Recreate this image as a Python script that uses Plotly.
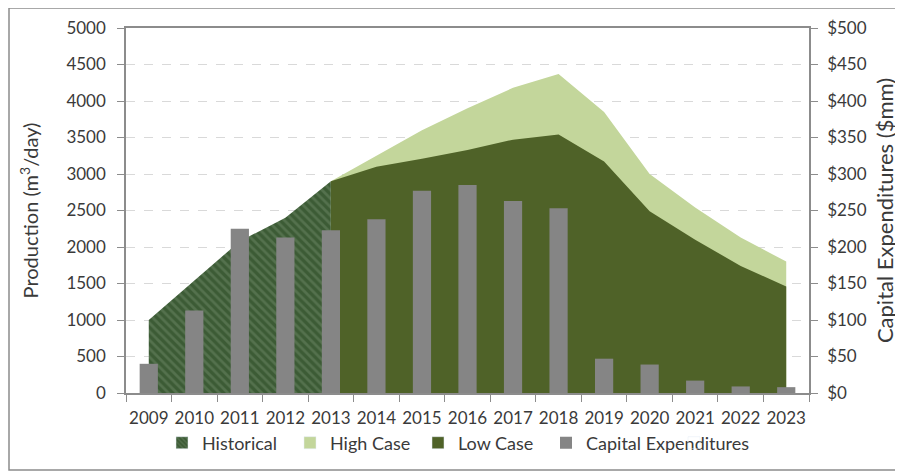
import plotly.graph_objects as go

years = [str(y) for y in range(2009, 2024)]

hist_years = ["2009", "2010", "2011", "2012", "2013"]
historical = [1000, 1540, 2080, 2400, 2900]

case_years = ["2013", "2014", "2015", "2016", "2017", "2018", "2019", "2020", "2021", "2022", "2023"]
high_case = [2900, 3250, 3600, 3900, 4180, 4370, 3850, 3000, 2540, 2130, 1800]
low_case = [2900, 3100, 3210, 3330, 3470, 3540, 3170, 2490, 2100, 1740, 1460]

capex = [40, 113, 225, 213, 223, 238, 277, 285, 263, 253, 47, 39, 17, 9, 8]

FONT = "Lato"
TXT = "#3a3a3a"
C_HIST, C_HIST_FG = "#3c5b35", "#6b8766"
C_HIGH, C_LOW, C_BAR = "#c3d69b", "#4f6228", "#858585"

fig = go.Figure()

# areas (legend shown via square entries below)
fig.add_trace(go.Scatter(
    x=hist_years, y=historical, name="Historical", mode="lines", showlegend=False,
    line=dict(width=0, color=C_HIST), fill="tozeroy", fillcolor=C_HIST,
    fillpattern=dict(shape="\\", fgcolor=C_HIST_FG, bgcolor=C_HIST, size=6, solidity=0.45),
))
fig.add_trace(go.Scatter(
    x=case_years, y=high_case, name="High Case", mode="lines", showlegend=False,
    line=dict(width=0, color=C_HIGH), fill="tozeroy", fillcolor=C_HIGH,
))
fig.add_trace(go.Scatter(
    x=case_years, y=low_case, name="Low Case", mode="lines", showlegend=False,
    line=dict(width=0, color=C_LOW), fill="tozeroy", fillcolor=C_LOW,
))
# legend entries (square swatches, no data drawn)
fig.add_trace(go.Bar(x=[None], y=[None], name="Historical", yaxis="y2",
                     marker=dict(color=C_HIST, pattern=dict(shape="\\", fgcolor=C_HIST_FG, bgcolor=C_HIST, size=4, solidity=0.4))))
fig.add_trace(go.Bar(x=[None], y=[None], name="High Case", yaxis="y2", marker=dict(color=C_HIGH)))
fig.add_trace(go.Bar(x=[None], y=[None], name="Low Case", yaxis="y2", marker=dict(color=C_LOW)))
fig.add_trace(go.Bar(
    x=years, y=capex, name="Capital Expenditures", yaxis="y2",
    marker=dict(color=C_BAR, line=dict(width=0)),
))
# invisible spacer entry so the last legend label is not clipped
fig.add_trace(go.Bar(x=[None], y=[None], name=" ", yaxis="y2", hoverinfo="skip",
                     marker=dict(color="rgba(0,0,0,0)")))

# page body has an 8px margin; work in screen coords and shift
OFF = 8
W, H = 903 - OFF, 473 - OFF
L, R, T, B = 126 - OFF, 809 - OFF, 28 - OFF, 393 - OFF
pw, ph = R - L, B - T

def px(x):
    return (x - OFF - L) / pw

def py(y):
    return (B - (y - OFF)) / ph

fig.update_layout(
    width=W, height=H,
    margin=dict(l=L, r=W - R, t=T, b=H - B, autoexpand=False),
    paper_bgcolor="white", plot_bgcolor="white",
    font=dict(family=FONT, size=17, color=TXT),
    barmode="overlay",
    bargap=0.6,
    showlegend=True,
    legend=dict(orientation="h", x=px(162), xanchor="left", y=py(443), yanchor="middle",
                font=dict(family=FONT, size=18, color=TXT), itemwidth=30,
                entrywidth=83, entrywidthmode="pixels",
                tracegroupgap=0, bgcolor="rgba(0,0,0,0)"),
    xaxis=dict(
        type="category", categoryorder="array", categoryarray=years,
        range=[-0.5, 14.5], automargin=False, tickangle=0,
        showline=True, linecolor="#8c8c8c", linewidth=1.5, mirror=True,
        ticks="outside", tickson="boundaries", ticklen=7, tickcolor="#8c8c8c",
        ticklabelstandoff=9,
        showgrid=False, tickfont=dict(size=17, color=TXT),
    ),
    yaxis=dict(
        range=[0, 5000], dtick=500, tick0=0, automargin=False,
        showline=True, linecolor="#8c8c8c", linewidth=1.5,
        ticks="outside", ticklen=7, tickcolor="#8c8c8c",
        ticklabelstandoff=8,
        showgrid=True, gridcolor="#d9d9d9", griddash="dash", gridwidth=1,
        zeroline=False, tickfont=dict(size=17, color=TXT),
        title=dict(text="Production (m<sup>3</sup>/day)", font=dict(size=20, color=TXT), standoff=22),
    ),
    yaxis2=dict(
        range=[0, 500], dtick=50, tick0=0, overlaying="y", side="right",
        tickprefix="$", automargin=False,
        showline=True, linecolor="#8c8c8c", linewidth=1.5,
        ticks="outside", ticklen=7, tickcolor="#8c8c8c",
        ticklabelstandoff=6,
        showgrid=False, zeroline=False, tickfont=dict(size=17, color=TXT),
        title=dict(text="Capital Expenditures ($mm)", font=dict(size=22, color=TXT), standoff=12),
    ),
    shapes=[dict(type="rect", xref="paper", yref="paper",
                 x0=px(9), x1=px(901), y0=py(470), y1=py(8),
                 line=dict(color="#8c8c8c", width=1.5), fillcolor="rgba(0,0,0,0)", layer="below")],
)

fig.write_html("out.html")
